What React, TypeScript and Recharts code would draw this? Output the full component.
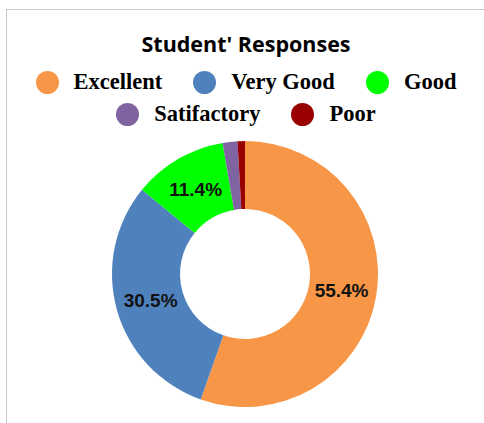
import React from "react";
import { PieChart, Pie, Cell, Legend } from "recharts";

const categories = ["Excellent", "Very Good", "Good", "Satifactory", "Poor"];
const values = [55.4, 30.5, 11.4, 1.8, 0.9];
const colors = ["#F79646", "#4F81BD", "#00FF00", "#8064A2", "#990000"];
const labelTexts = ["55.4%", "30.5%", "11.4%", "", ""];
const title = "Student' Responses";

const data = categories.map((name, i) => ({ name, value: values[i], label: labelTexts[i] }));

const RAD = Math.PI / 180;
const LEGEND_H = 106;

const renderLabel = (props: any) => {
  const { cx, cy, midAngle, innerRadius, outerRadius, index } = props;
  const text = labelTexts[index];
  if (!text) return null;
  const r = (innerRadius + outerRadius) / 2 - 1;
  const x = cx + r * Math.cos(-midAngle * RAD);
  const y = cy + r * Math.sin(-midAngle * RAD);
  return (
    <text
      x={x}
      y={y}
      fill="#111"
      textAnchor="middle"
      dominantBaseline="central"
      style={{ fontFamily: "'Liberation Sans', Arial, sans-serif", fontWeight: 700, fontSize: 19 }}
    >
      {text}
    </text>
  );
};

const LegendItem = ({ color, value }: { color: string; value: string }) => (
  <div style={{ display: "flex", alignItems: "center", margin: "0 15.5px" }}>
    <span
      style={{
        width: 23,
        height: 23,
        borderRadius: "50%",
        background: color,
        display: "inline-block",
        marginRight: 15,
      }}
    />
    <span
      style={{
        fontFamily: "'Liberation Serif', 'Times New Roman', serif",
        fontWeight: 700,
        fontSize: 22.5,
        color: "#000",
        lineHeight: "32px",
      }}
    >
      {value}
    </span>
  </div>
);

const renderLegend = (props: any) => {
  const payload = (props.payload || []) as any[];
  const items = categories.map((c, i) => {
    const p = payload.find((q) => q.value === c);
    return { value: c, color: p ? p.color : colors[i] };
  });
  const row1 = items.slice(0, 3);
  const row2 = items.slice(3);
  return (
    <div style={{ width: 484, height: LEGEND_H, textAlign: "center" }}>
      <div
        style={{
          fontFamily: "'Open Sans', sans-serif",
          fontWeight: 700,
          fontSize: 21.5,
          lineHeight: "40px",
          height: 42,
          color: "#000",
          paddingLeft: 8,
        }}
      >
        {title}
      </div>
      <div style={{ display: "flex", justifyContent: "center", paddingLeft: 8 }}>
        {row1.map((it) => (
          <LegendItem key={it.value} color={it.color} value={it.value} />
        ))}
      </div>
      <div style={{ display: "flex", justifyContent: "center", paddingLeft: 8 }}>
        {row2.map((it) => (
          <LegendItem key={it.value} color={it.color} value={it.value} />
        ))}
      </div>
    </div>
  );
};

export default function App() {
  return (
    <div style={{ position: "absolute", left: 0, top: 0, width: 484, height: 423, background: "#fff" }}>
      <div
        style={{
          position: "absolute",
          left: 6,
          top: 9,
          right: 0,
          bottom: 0,
          borderLeft: "1px solid #c8c8c8",
          borderTop: "1px solid #c8c8c8",
        }}
      />
      <div style={{ position: "absolute", left: 0, top: 0 }}>
        <PieChart width={484} height={423} margin={{ top: 0, right: 0, bottom: 0, left: 0 }}>
          <Legend
            verticalAlign="top"
            content={renderLegend}
            wrapperStyle={{ top: 24, left: 0, width: 484 }}
          />
          <Pie
            data={data}
            dataKey="value"
            nameKey="name"
            cx={245}
            cy={274 - LEGEND_H}
            innerRadius={65}
            outerRadius={133}
            startAngle={90}
            endAngle={-270}
            stroke="none"
            labelLine={false}
            label={renderLabel}
            isAnimationActive={false}
          >
            {data.map((d, i) => (
              <Cell key={d.name} fill={colors[i]} />
            ))}
          </Pie>
        </PieChart>
      </div>
    </div>
  );
}
